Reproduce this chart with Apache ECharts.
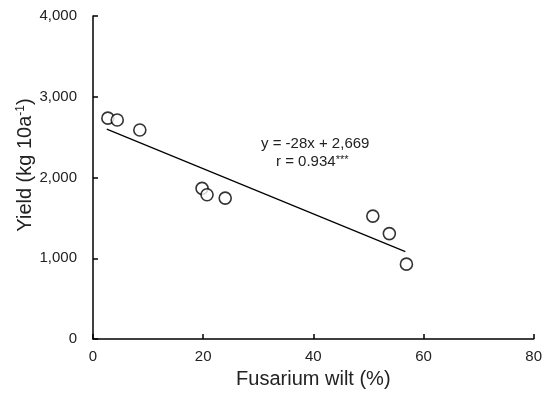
<!DOCTYPE html>
<html>
<head>
<meta charset="utf-8">
<script src="https://cdn.jsdelivr.net/npm/echarts@6/dist/echarts.min.js"></script>
<style>
  html, body { margin: 0; padding: 0; background: #fff; }
  #chart { width: 545px; height: 394px; }
</style>
</head>
<body>
<div id="chart"></div>
<script>
// Fusarium wilt (%) vs yield (kg 10a-1)
const wiltPct = [2.7, 4.4, 8.5, 19.8, 20.7, 24.0, 50.8, 53.8, 56.9]
const yieldKg = [2735, 2712, 2588, 1865, 1787, 1745, 1522, 1305, 927]
// regression line endpoints
const fitLine = [[2.5, 2599], [56.7, 1082]]
const xTicks = [0, 20, 40, 60, 80]
const yTicks = [0, 1000, 2000, 3000, 4000]

const font = 'Liberation Sans, Arial, sans-serif'
const chart = echarts.init(document.getElementById('chart'))

chart.setOption({
  animation: false,
  grid: { left: 93, right: 5, top: 16, bottom: 53 },
  xAxis: {
    type: 'value',
    min: xTicks[0], max: xTicks[xTicks.length - 1], interval: 20,
    name: 'Fusarium wilt (%)',
    nameLocation: 'middle', nameGap: 30,
    nameTextStyle: { fontFamily: font, fontSize: 20, color: '#222' },
    axisLine: { lineStyle: { color: '#000', width: 1.5 } },
    axisTick: { inside: true, length: 5, lineStyle: { color: '#000', width: 1.5 } },
    axisLabel: { fontFamily: font, fontSize: 15, color: '#222', margin: 10 },
    splitLine: { show: false }
  },
  yAxis: {
    type: 'value',
    min: yTicks[0], max: yTicks[yTicks.length - 1], interval: 1000,
    axisLine: { show: true, lineStyle: { color: '#000', width: 1.5 } },
    axisTick: { show: true, inside: true, length: 5, lineStyle: { color: '#000', width: 1.5 } },
    axisLabel: {
      fontFamily: font, fontSize: 15, color: '#222', margin: 16,
      formatter: v => v.toLocaleString('en-US')
    },
    splitLine: { show: false }
  },
  series: [
    {
      type: 'line',
      data: fitLine,
      symbol: 'none',
      lineStyle: { color: '#000', width: 1.2 },
      silent: true
    },
    {
      type: 'scatter',
      data: wiltPct.map((x, i) => [x, yieldKg[i]]),
      symbol: 'circle',
      symbolSize: 12,
      itemStyle: { color: '#fff', borderColor: '#000', borderWidth: 1.6 }
    }
  ],
  graphic: [
    // y axis title, placed by hand so it sits like the original
    {
      type: 'text', x: 25, y: 165, rotation: Math.PI / 2,
      style: {
        text: '{a|Yield (kg 10a}{s|-1}{a|)}',
        align: 'center', verticalAlign: 'middle',
        rich: {
          a: { font: '20px ' + font, fill: '#222' },
          s: { font: '12px ' + font, fill: '#222', verticalAlign: 'top' }
        }
      }
    },
    {
      type: 'text', left: 261, top: 136,
      style: { text: 'y = -28x + 2,669', font: '15px ' + font, fill: '#222' }
    },
    {
      type: 'text', left: 276, top: 154,
      style: {
        text: '{a|r = 0.934}{s|***}',
        rich: {
          a: { font: '15px ' + font, fill: '#222' },
          s: { font: '11px ' + font, fill: '#222', verticalAlign: 'top' }
        }
      }
    }
  ]
})
</script>
</body>
</html>
